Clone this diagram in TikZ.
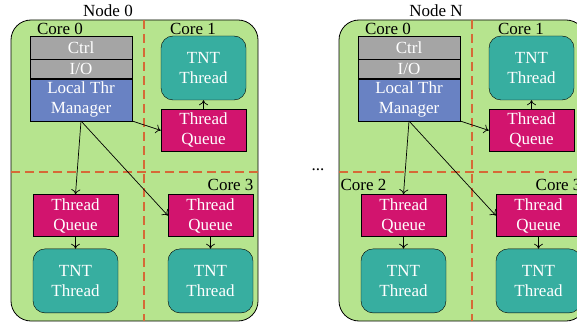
\documentclass[tikz,border=0pt]{standalone}
\usepackage{fontspec}
\setmainfont{Liberation Serif}
\usetikzlibrary{arrows.meta, positioning}

\definecolor{nodegreen}{RGB}{182,228,142}
\definecolor{tntteal}{RGB}{55,174,160}
\definecolor{queuemag}{RGB}{210,20,110}
\definecolor{mgrblue}{RGB}{105,130,195}
\definecolor{ctrlgray}{RGB}{165,165,165}
\definecolor{coreline}{RGB}{214,105,55}

\begin{document}
\begin{tikzpicture}[
  x=1pt, y=-1pt,
  font=\fontsize{17}{20}\selectfont,
  node distance=9pt,
  machine/.style={draw, fill=nodegreen, rounded corners=20pt, line width=0.8pt},
  split/.style={draw=coreline, dash pattern=on 9pt off 5pt, line width=1.2pt},
  stack/.style={rectangle, draw, fill=ctrlgray, text=white, minimum width=102pt, inner sep=0pt, align=center},
  tnt/.style={rectangle, draw, rounded corners=12pt, fill=tntteal, text=white, minimum width=85pt, minimum height=64pt, align=center},
  queue/.style={rectangle, draw, fill=queuemag, text=white, minimum width=85pt, minimum height=42pt, align=center},
  arrow/.style={-{To[length=5pt, width=9pt]}, line width=0.7pt}
]
\clip (0,0) rectangle (577,323);
\useasboundingbox (0,0) rectangle (577,323);

% Node 0
\draw[machine] (11,20) rectangle (258,321);
\draw[split] (144,20) -- (144,321);
\draw[split] (11,172) -- (258,172);
\node (label0) at (108,11) {Node 0};
\node (core00) at (60,29) {Core 0};
\node (core01) at (193,29) {Core 1};
\node[anchor=east] (core03) at (257,185) {Core 3};

\node[stack, minimum height=23pt] (ctrl0) at (81,47.5) {Ctrl};
\node[stack, minimum height=19pt, below=0pt of ctrl0] (io0) {I/O};
\node[stack, minimum height=42pt, fill=mgrblue, below=0pt of io0] (mgr0) {Local Thr\\Manager};

\node[tnt] (tnt01) at (203.5,68) {TNT\\Thread};
\node[queue, below=of tnt01] (queue01) {Thread\\Queue};
\node[queue] (queue02) at (75.5,215.5) {Thread\\Queue};
\node[tnt, below=12pt of queue02] (tnt02) {TNT\\Thread};
\node[queue] (queue03) at (210.5,215.5) {Thread\\Queue};
\node[tnt, below=12pt of queue03] (tnt03) {TNT\\Thread};

\draw[arrow] (mgr0.south east) -- (queue01.west);
\draw[arrow] (mgr0.south) -- (queue02.north);
\draw[arrow] (mgr0.south) -- (queue03.west);
\draw[arrow] (queue01) -- (tnt01);
\draw[arrow] (queue02) -- (tnt02);
\draw[arrow] (queue03) -- (tnt03);

\node (dots) at (318,170) {...};

% Node N
\draw[machine] (339,20) rectangle (586,321);
\draw[split] (472,20) -- (472,321);
\draw[split] (339,172) -- (586,172);
\node (labelN) at (436,11) {Node N};
\node (coreN0) at (388,29) {Core 0};
\node (coreN1) at (521,29) {Core 1};
\node[anchor=west] (coreN2) at (337,185) {Core 2};
\node[anchor=east] (coreN3) at (585,185) {Core 3};

\node[stack, minimum height=23pt] (ctrlN) at (409,47.5) {Ctrl};
\node[stack, minimum height=19pt, below=0pt of ctrlN] (ioN) {I/O};
\node[stack, minimum height=42pt, fill=mgrblue, below=0pt of ioN] (mgrN) {Local Thr\\Manager};

\node[tnt] (tntN1) at (531.5,68) {TNT\\Thread};
\node[queue, below=of tntN1] (queueN1) {Thread\\Queue};
\node[queue] (queueN2) at (403.5,215.5) {Thread\\Queue};
\node[tnt, below=12pt of queueN2] (tntN2) {TNT\\Thread};
\node[queue] (queueN3) at (538.5,215.5) {Thread\\Queue};
\node[tnt, below=12pt of queueN3] (tntN3) {TNT\\Thread};

\draw[arrow] (mgrN.south east) -- (queueN1.west);
\draw[arrow] (mgrN.south) -- (queueN2.north);
\draw[arrow] (mgrN.south) -- (queueN3.west);
\draw[arrow] (queueN1) -- (tntN1);
\draw[arrow] (queueN2) -- (tntN2);
\draw[arrow] (queueN3) -- (tntN3);

\end{tikzpicture}
\end{document}
